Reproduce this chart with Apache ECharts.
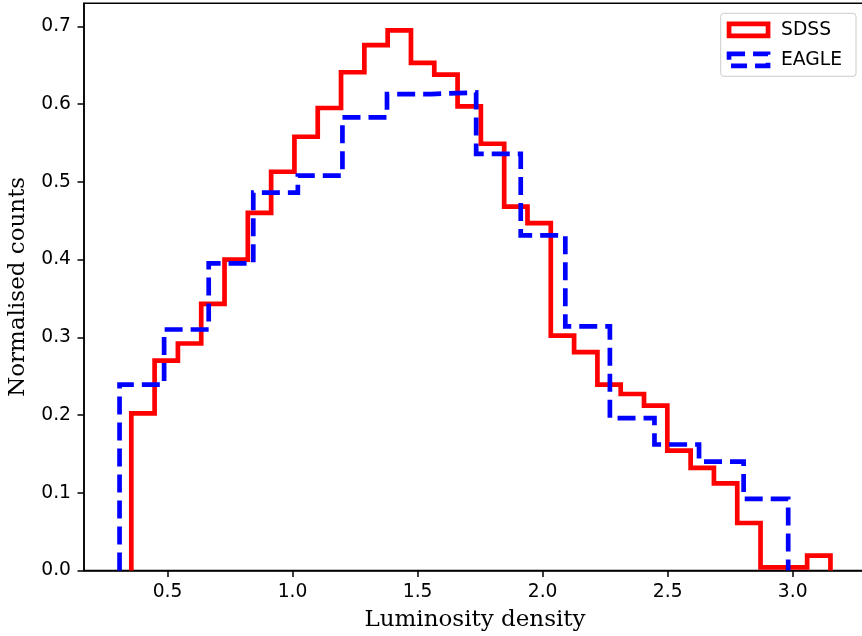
<!DOCTYPE html>
<html>
<head>
<meta charset="utf-8">
<script src="https://cdn.jsdelivr.net/npm/echarts@6/dist/echarts.min.js"></script>
<style>html,body{margin:0;padding:0;background:#fff}#c{width:862px;height:636px}</style>
</head>
<body>
<div id="c"></div>
<script>
// Histogram data (normalised counts per bin)
var sdssName = 'SDSS';
var sdssBinStart = 0.355;
var sdssBinEnd = 3.151;
var sdssCounts = [0.202, 0.270, 0.292, 0.343, 0.400, 0.460, 0.513, 0.558, 0.595, 0.641,
                  0.676, 0.695, 0.653, 0.638, 0.597, 0.549, 0.468, 0.447, 0.302, 0.281,
                  0.239, 0.227, 0.212, 0.154, 0.132, 0.112, 0.061, 0.004, 0.004, 0.019];
var eagleName = 'EAGLE';
var eagleBinStart = 0.308;
var eagleBinEnd = 2.982;
var eagleCounts = [0.239, 0.310, 0.395, 0.486, 0.508, 0.583, 0.613, 0.615, 0.536, 0.431,
                   0.314, 0.196, 0.162, 0.140, 0.092];
var xTicks = [0.5, 1.0, 1.5, 2.0, 2.5, 3.0];
var yTicks = [0.0, 0.1, 0.2, 0.3, 0.4, 0.5, 0.6, 0.7];
var xLabel = 'Luminosity density';
var yLabel = 'Normalised counts';

function stepPath(start, end, counts) {
  var n = counts.length, w = (end - start) / n, pts = [];
  pts.push([start, 0]);
  for (var i = 0; i < n; i++) {
    var a = start + i * w, b = start + (i + 1) * w;
    pts.push([a, counts[i]]);
    pts.push([b, counts[i]]);
  }
  pts.push([end, 0]);
  return pts;
}

var allMin = Math.min(sdssBinStart, eagleBinStart), allMax = Math.max(sdssBinEnd, eagleBinEnd);
var pad = (allMax - allMin) * 0.05;
var yMax = Math.max.apply(null, sdssCounts.concat(eagleCounts)) * 1.05;

var tickFont = {fontFamily: 'DejaVu Sans', fontSize: 18.7, color: '#000'};
var nameFont = {fontFamily: 'DejaVu Serif', fontSize: 23, color: '#000'};
var chart = echarts.init(document.getElementById('c'), null, {renderer: 'canvas'});
chart.setOption({
  animation: false,
  backgroundColor: '#fff',
  grid: {left: 84, top: 3.3, width: 782, height: 567.1, outerBoundsMode: 'none', containLabel: false,
         show: true, borderColor: '#000', borderWidth: 1.5, backgroundColor: 'transparent'},
  xAxis: {
    type: 'value', min: allMin - pad, max: allMax + pad,
    name: xLabel, nameLocation: 'middle', nameGap: 38, nameTextStyle: nameFont,
    axisLine: {show: true, lineStyle: {color: '#000', width: 1.5}},
    axisTick: {show: true, length: 6.5, lineStyle: {color: '#000', width: 1.5}, customValues: xTicks},
    axisLabel: Object.assign({margin: 12, customValues: xTicks, formatter: function (v) { return v.toFixed(1); }}, tickFont),
    splitLine: {show: false}
  },
  yAxis: {
    type: 'value', min: 0, max: yMax,
    name: yLabel, nameLocation: 'middle', nameGap: 54, nameTextStyle: nameFont,
    axisLine: {show: true, lineStyle: {color: '#000', width: 1.5}},
    axisTick: {show: true, length: 6.5, lineStyle: {color: '#000', width: 1.5}, customValues: yTicks},
    axisLabel: Object.assign({margin: 13, customValues: yTicks, formatter: function (v) { return v.toFixed(1); }}, tickFont),
    splitLine: {show: false}
  },
  legend: {
    orient: 'vertical', left: 720.7, top: 13.3,
    padding: [7, 14, 7, 6],
    itemWidth: 39, itemHeight: 12, itemGap: 11,
    backgroundColor: 'rgba(255,255,255,0.8)', borderColor: '#cccccc', borderWidth: 1, borderRadius: 3,
    textStyle: {fontFamily: 'DejaVu Sans', fontSize: 18.7, color: '#000', padding: [0, 0, 0, 8]},
    data: [
      {name: sdssName, icon: 'rect', itemStyle: {color: 'rgba(255,255,255,0)', borderColor: '#ff0000', borderWidth: 4.7}},
      {name: eagleName, icon: 'rect', itemStyle: {color: 'rgba(255,255,255,0)', borderColor: '#0000ff', borderWidth: 4.7, borderType: [16, 8]}}
    ]
  },
  series: [
    {name: sdssName, type: 'line', data: stepPath(sdssBinStart, sdssBinEnd, sdssCounts), showSymbol: false, symbol: 'none',
     lineStyle: {color: '#ff0000', width: 4.7, join: 'miter', cap: 'butt'}, itemStyle: {color: '#ff0000'}, clip: true},
    {name: eagleName, type: 'line', data: stepPath(eagleBinStart, eagleBinEnd, eagleCounts), showSymbol: false, symbol: 'none',
     lineStyle: {color: '#0000ff', width: 4.7, type: [18, 8], join: 'miter', cap: 'butt'}, itemStyle: {color: '#0000ff'}, clip: true}
  ]
});
</script>
</body>
</html>
